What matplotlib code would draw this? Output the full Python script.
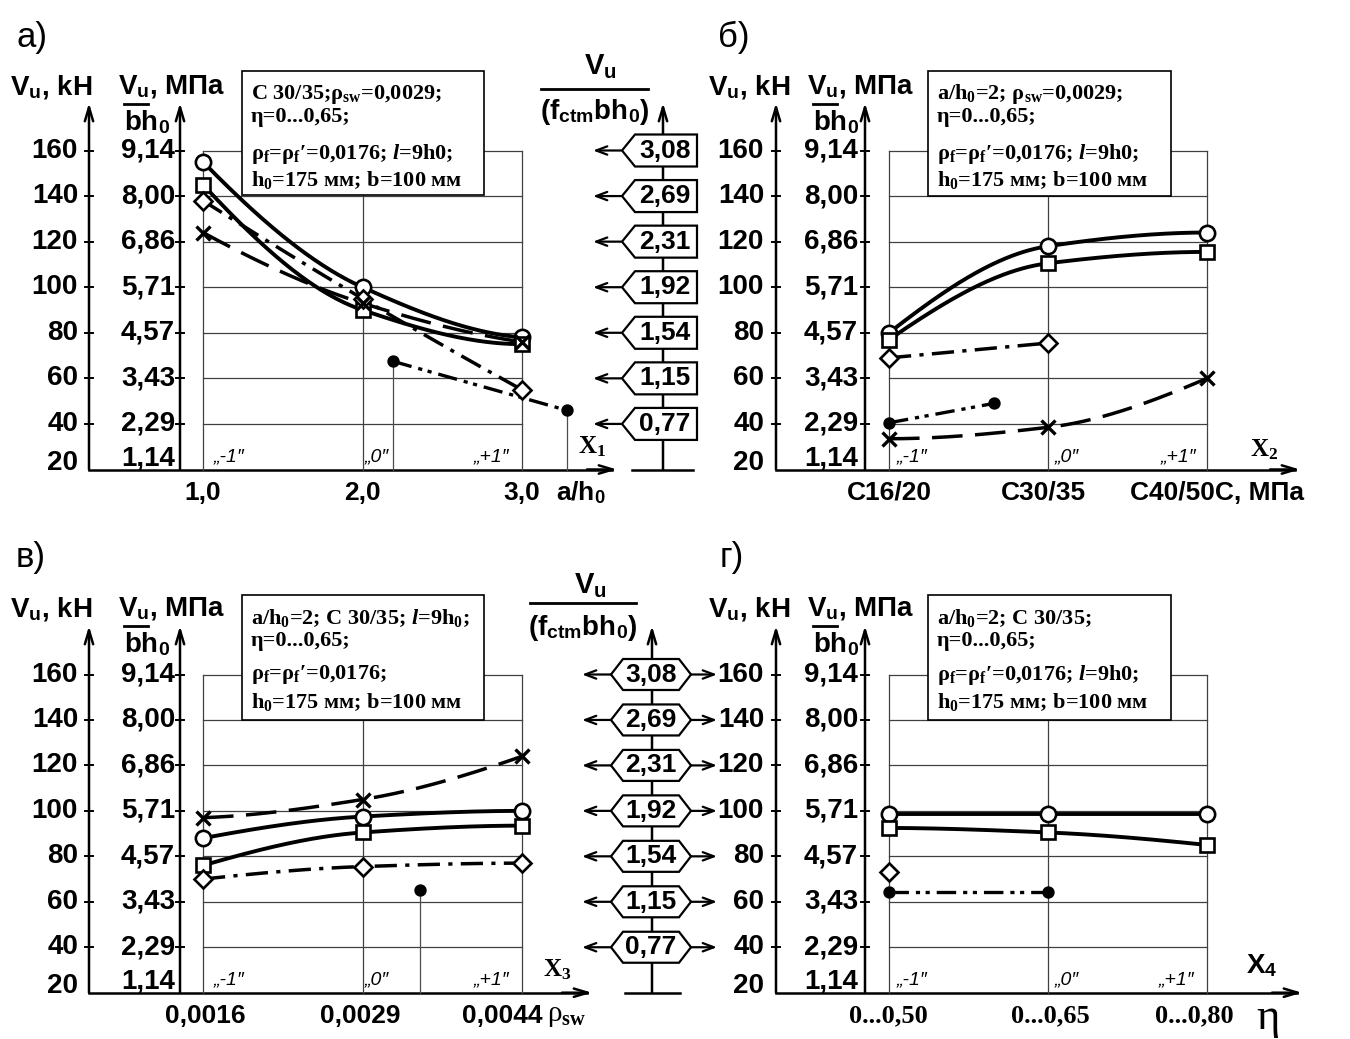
import matplotlib
matplotlib.use('Agg')
import matplotlib.pyplot as plt
from matplotlib import font_manager
from matplotlib.patches import Polygon, Rectangle
import numpy as np

# ---- данные: V_u, кН ----
kn_levels = ['20', '40', '60', '80', '100', '120', '140', '160']
mpa_levels = ['1,14', '2,29', '3,43', '4,57', '5,71', '6,86', '8,00', '9,14']
rel_levels = ['0,77', '1,15', '1,54', '1,92', '2,31', '2,69', '3,08']
code_levels = ['\u201e-1\u2033', '\u201e0\u2033', '\u201e+1\u2033']
x_pos = [1, 2, 3]

a_ticks = ['1,0', '2,0', '3,0']
a_circle = [155, 100, 78]
a_square = [145, 90, 75]
a_diamond = [138, 95, 55]
a_cross = [124, 93, 76]
a_dot_x = [2.19, 3.28]
a_dot = [67.5, 46]

b_ticks = ['С16/20', 'С30/35', 'С40/50']
b_circle = [80, 118, 124]
b_square = [77, 110.5, 115.5]
b_diamond_x = [1, 2]
b_diamond = [69, 75.5]
b_cross = [33.5, 38.5, 60]
b_dot_x = [1, 1.66]
b_dot = [40.5, 49]

c_ticks = ['0,0016', '0,0029', '0,0044']
c_circle = [88, 97.5, 100]
c_square = [76, 90.5, 93.5]
c_diamond = [70, 75.5, 77]
c_cross = [97, 105, 124]
c_dot_x = [2.36]
c_dot = [65]

d_ticks = ['0...0,50', '0...0,65', '0...0,80']
d_circle = [98.5, 98.5, 98.5]
d_square = [92.5, 90.5, 85]
d_diamond_x = [1]
d_diamond = [73]
d_dot_x = [1, 2]
d_dot = [64.5, 64.5]

# ---- шрифты ----
names = {f.name for f in font_manager.fontManager.ttflist}
if 'Liberation Sans Narrow' in names:
    SANS, K = 'Liberation Sans Narrow', 1.0
else:
    SANS, K = 'Liberation Sans', 0.95
SERIF = 'Liberation Serif'
plt.rcParams['mathtext.fontset'] = 'custom'
plt.rcParams['mathtext.rm'] = SANS + ':bold'
plt.rcParams['mathtext.bf'] = SERIF + ':bold'
plt.rcParams['mathtext.it'] = SERIF + ':italic:bold'
plt.rcParams['lines.scale_dashes'] = False

W, H = 1350, 1039
fig = plt.figure(figsize=(W / 100, H / 100), dpi=100)
ov = fig.add_axes([0, 0, 1, 1])
ov.set_xlim(0, W)
ov.set_ylim(H, 0)
ov.axis('off')

FS = 21 * K


def txt(x, y, s, fs, ha='left', va='center', fam=None, weight='bold',
        style='normal', ax=None, z=5):
    fam = fam or [SANS, 'DejaVu Sans']
    (ax or ov).text(x, y, s, fontsize=fs, ha=ha, va=va, family=fam,
                    weight=weight, style=style, transform=ov.transData, zorder=z)


def arr(x0, y0, x1, y1, lw=1.6, hl=1.0, hw=0.3):
    ov.annotate('', xy=(x1, y1), xytext=(x0, y0),
                arrowprops=dict(arrowstyle=f'->,head_length={hl},head_width={hw}',
                                lw=lw, color='k', shrinkA=0, shrinkB=0))


def smooth(xs, ys, n=80):
    # монотонная кубическая кривая через точки (Fritsch-Carlson)
    h = np.diff(xs)
    dl = np.diff(ys) / h
    d = np.zeros_like(ys)
    for i in range(1, len(xs) - 1):
        if dl[i - 1] * dl[i] > 0:
            w1 = 2 * h[i] + h[i - 1]
            w2 = h[i] + 2 * h[i - 1]
            d[i] = (w1 + w2) / (w1 / dl[i - 1] + w2 / dl[i])
    for i0, i1, j in ((0, 1, 0), (-1, -2, -1)):
        hh0, hh1 = h[j], h[j + (1 if j == 0 else -1)]
        e = ((2 * hh0 + hh1) * dl[j] - hh0 * dl[j + (1 if j == 0 else -1)]) / (hh0 + hh1)
        if np.sign(e) != np.sign(dl[j]):
            e = 0.0
        d[i0] = e
    xx, yy = [], []
    for i in range(len(xs) - 1):
        t = np.linspace(0, 1, n)
        h00 = 2 * t ** 3 - 3 * t ** 2 + 1
        h10 = t ** 3 - 2 * t ** 2 + t
        h01 = -2 * t ** 3 + 3 * t ** 2
        h11 = t ** 3 - t ** 2
        xx.append(xs[i] + t * h[i])
        yy.append(h00 * ys[i] + h10 * h[i] * d[i] + h01 * ys[i + 1] + h11 * h[i] * d[i + 1])
    return np.concatenate(xx), np.concatenate(yy)


def line(ax, xs, ys, style, marker, ms, filled=False, lw=2.8):
    xs = np.asarray(xs, float)
    ys = np.asarray(ys, float)
    if len(xs) >= 3:
        xx, yy = smooth(xs, ys)
    else:
        xx, yy = xs, ys
    if len(xs) > 1:
        ax.plot(xx, yy, color='k', lw=lw, clip_on=False, zorder=4, **style)
    ax.plot(xs, ys, ls='none', marker=marker, ms=ms,
            mfc='k' if filled else 'white', mec='k',
            mew=2.4 if marker == 'x' else 1.9, clip_on=False, zorder=5)


SOLID = dict(ls='-')
DASHDOT = dict(dashes=(16, 6, 3, 6))
LONGDASH = dict(dashes=(22, 9))
DASHDOTDOT = dict(dashes=(14, 5, 3, 4, 3, 5))

A = dict(gx=(203, 362, 522), y160=150.5, y20=469.5, kn=89, mpa=180, xend=617,
         hdr=87, top=103, title=('а)', 16, 37), box=(242, 71, 484, 195),
         ly=(94, 117, 154, 180), cx=(229, 377, 491), cy=457, kn_r=78, mpa_r=175,
         vk=10, vm=118, xlab_y=493)
B = dict(gx=(889, 1048, 1207), y160=150.5, y20=469.5, kn=776, mpa=865, xend=1300,
         hdr=87, top=103, title=('б)', 718, 37), box=(928, 71, 1171, 196),
         ly=(94, 117, 154, 180), cx=(912, 1067, 1178), cy=457, kn_r=764, mpa_r=858,
         vk=708, vm=807, xlab_y=493)
C = dict(gx=(203, 362, 522), y160=674.5, y20=992.7, kn=89, mpa=180, xend=592,
         hdr=609, top=626, title=('в)', 16, 557), box=(242, 595, 484, 720),
         ly=(618, 641, 675, 702), cx=(229, 377, 491), cy=980, kn_r=78, mpa_r=175,
         vk=10, vm=118, xlab_y=1016)
D = dict(gx=(889, 1048, 1207), y160=674.5, y20=992.7, kn=776, mpa=865, xend=1302,
         hdr=609, top=626, title=('г)', 720, 557), box=(928, 595, 1171, 720),
         ly=(618, 641, 675, 702), cx=(912, 1067, 1176), cy=980, kn_r=764, mpa_r=858,
         vk=708, vm=807, xlab_y=1016)


def frame(g, box_lines):
    gx, y160, y20 = g['gx'], g['y160'], g['y20']
    step = (y20 - y160) / 7
    lev = [y20 - i * step for i in range(8)]
    t, tx, ty = g['title']
    txt(tx, ty, t, 25, fam=['Liberation Sans', 'DejaVu Sans'], weight='normal')
    # оси
    ov.plot([g['kn'], g['xend'] - 5], [y20, y20], color='k', lw=1.8, zorder=3)
    arr(g['xend'] - 30, y20, g['xend'], y20, lw=1.8)
    for x in (g['kn'], g['mpa']):
        arr(x, y20, x, g['top'], lw=1.8)
        for yy in lev[1:]:
            ov.plot([x - 4, x + 4], [yy, yy], color='k', lw=1.4)
    for i, yy in enumerate(lev):
        dy = -7 if i == 0 else 0
        txt(g['kn_r'], yy + dy, kn_levels[i], FS, ha='right')
        txt(g['mpa_r'], yy + (-11 if i == 0 else 0), mpa_levels[i], FS, ha='right')
    txt(g['vk'], g['hdr'], 'V$_{\\rm u}$, kH', FS)
    txt(g['vm'], g['hdr'], 'V$_{\\rm u}$, МПа', FS)
    ov.plot([g['vm'] + 6, g['vm'] + 30], [g['hdr'] + 17, g['hdr'] + 17], color='k', lw=2)
    txt(g['vm'] + 6, g['hdr'] + 35, 'bh$_{\\rm 0}$', FS)
    for x, s in zip(g['cx'], code_levels):
        txt(x, g['cy'], s, 14, ha='center', weight='normal', style='italic')

    ax = fig.add_axes([gx[0] / W, 1 - y20 / H, (gx[2] - gx[0]) / W, (y20 - y160) / H])
    ax.set_xlim(1, 3)
    ax.set_ylim(20, 160)
    ax.axis('off')
    for v in range(40, 161, 20):
        ax.plot([1, 3], [v, v], color='0.25', lw=0.9, zorder=1, clip_on=False)
    for x in x_pos:
        ax.plot([x, x], [20, 160], color='0.25', lw=0.9, zorder=1, clip_on=False)
    x0, y0, x1, y1 = g['box']
    ax.add_patch(Rectangle((x0, y0), x1 - x0, y1 - y0, transform=ov.transData,
                           facecolor='white', edgecolor='k', lw=1.2, zorder=2,
                           clip_on=False))
    for yy, s in zip(g['ly'], box_lines):
        txt(x0 + 9, yy, s, 16, fam=[SERIF, 'DejaVu Serif'], ax=ax, z=3)
    return ax


def rel_scale(x_ax, y20, lev, top, hexagon, base):
    arr(x_ax, y20, x_ax, top, lw=1.8)
    ov.plot(base, [y20, y20], color='k', lw=1.8)
    for i, s in enumerate(rel_levels):
        yc = lev[i + 1]
        if hexagon:
            pts = [(611, yc), (623, yc - 15.5), (679, yc - 15.5), (691, yc),
                   (679, yc + 15.5), (623, yc + 15.5)]
            arr(611, yc, 582, yc, lw=1.6, hl=0.8)
            arr(691, yc, 717, yc, lw=1.6, hl=0.8)
            txt(651, yc, s, 20 * K, ha='center')
        else:
            pts = [(622, yc), (635, yc - 16), (697, yc - 16), (697, yc + 16),
                   (635, yc + 16)]
            arr(621, yc, 593, yc, lw=1.6, hl=0.8)
            txt(665, yc, s, 20 * K, ha='center')
        ov.add_patch(Polygon(pts, closed=True, facecolor='white', edgecolor='k',
                             lw=1.6, zorder=4))


def levels(g):
    step = (g['y20'] - g['y160']) / 7
    return [g['y20'] - i * step for i in range(8)]


SUB0 = '$_{\\mathbf{0}}$'
SW = '$_{\\mathbf{sw}}$'
FF = '$_{\\mathbf{f}}$'
L = '$\\mathit{l}$'

# ---- а) ----
ax = frame(A, ['C 30/35;ρ' + SW + '=0,0029;', 'η=0...0,65;',
               'ρ' + FF + '=ρ' + FF + '′=0,0176; ' + L + '=9h0;',
               'h' + SUB0 + '=175 мм; b=100 мм'])
line(ax, x_pos, a_circle, SOLID, 'o', 11)
line(ax, x_pos, a_square, SOLID, 's', 10)
line(ax, x_pos, a_diamond, DASHDOT, 'D', 9, lw=2.5)
line(ax, x_pos, a_cross, LONGDASH, 'x', 10, lw=2.5)
line(ax, a_dot_x, a_dot, DASHDOTDOT, 'o', 7, filled=True, lw=2.4)
for x, v in zip(a_dot_x, a_dot):
    ax.plot([x, x], [v, 20], color='0.3', lw=0.9, clip_on=False, zorder=1)
for x, s in zip(A['gx'], a_ticks):
    txt(x, A['xlab_y'], s, 20 * K, ha='center')
txt(556, A['xlab_y'], 'a/h$_{\\rm 0}$', 20 * K)
txt(578, 447, 'X' + '$_{\\mathbf{1}}$', 18, fam=[SERIF, 'DejaVu Serif'])
rel_scale(663, A['y20'], levels(A), 103, False, [632, 693])
txt(600, 67, 'V$_{\\rm u}$', FS + 1, ha='center')
ov.plot([541, 648], [89, 89], color='k', lw=2)
txt(595, 112, '(f$_{\\rm ctm}$bh$_{\\rm 0}$)', FS, ha='center')

# ---- б) ----
ax = frame(B, ['a/h' + SUB0 + '=2; ρ' + SW + '=0,0029;', 'η=0...0,65;',
               'ρ' + FF + '=ρ' + FF + '′=0,0176; ' + L + '=9h0;',
               'h' + SUB0 + '=175 мм; b=100 мм'])
line(ax, x_pos, b_circle, SOLID, 'o', 11)
line(ax, x_pos, b_square, SOLID, 's', 10)
line(ax, b_diamond_x, b_diamond, DASHDOT, 'D', 9, lw=2.5)
line(ax, x_pos, b_cross, LONGDASH, 'x', 10, lw=2.5)
line(ax, b_dot_x, b_dot, DASHDOTDOT, 'o', 7, filled=True, lw=2.4)
txt(B['gx'][0], B['xlab_y'], b_ticks[0], 20 * K, ha='center')
txt(1043, B['xlab_y'], b_ticks[1], 20 * K, ha='center')
txt(1130, B['xlab_y'], b_ticks[2] + 'С, МПа', 20 * K)
txt(1250, 450, 'X' + '$_{\\mathbf{2}}$', 18, fam=[SERIF, 'DejaVu Serif'])

# ---- в) ----
ax = frame(C, ['a/h' + SUB0 + '=2; C 30/35; ' + L + '=9h' + SUB0 + ';', 'η=0...0,65;',
               'ρ' + FF + '=ρ' + FF + '′=0,0176;',
               'h' + SUB0 + '=175 мм; b=100 мм'])
line(ax, x_pos, c_circle, SOLID, 'o', 11)
line(ax, x_pos, c_square, SOLID, 's', 10)
line(ax, x_pos, c_diamond, DASHDOT, 'D', 9, lw=2.5)
line(ax, x_pos, c_cross, LONGDASH, 'x', 10, lw=2.5)
line(ax, c_dot_x, c_dot, DASHDOTDOT, 'o', 7, filled=True, lw=2.4)
for x, v in zip(c_dot_x, c_dot):
    ax.plot([x, x], [v, 20], color='0.3', lw=0.9, clip_on=False, zorder=1)
txt(205, C['xlab_y'], c_ticks[0], 20 * K, ha='center')
txt(360, C['xlab_y'], c_ticks[1], 20 * K, ha='center')
txt(502, C['xlab_y'], c_ticks[2], 20 * K, ha='center')
txt(547, C['xlab_y'], 'ρ$_{\\mathbf{sw}}$', 21, fam=[SERIF, 'DejaVu Serif'], weight='normal')
txt(543, 970, 'X' + '$_{\\mathbf{3}}$', 18, fam=[SERIF, 'DejaVu Serif'])
rel_scale(652, C['y20'], levels(C), 626, True, [625, 680])
txt(590, 586, 'V$_{\\rm u}$', FS + 1, ha='center')
ov.plot([530, 636], [603, 603], color='k', lw=2)
txt(583, 628, '(f$_{\\rm ctm}$bh$_{\\rm 0}$)', FS, ha='center')

# ---- г) ----
ax = frame(D, ['a/h' + SUB0 + '=2; C 30/35;', 'η=0...0,65;',
               'ρ' + FF + '=ρ' + FF + '′=0,0176; ' + L + '=9h0;',
               'h' + SUB0 + '=175 мм; b=100 мм'])
line(ax, x_pos, d_circle, SOLID, 'o', 11)
line(ax, x_pos, d_square, SOLID, 's', 10)
line(ax, d_diamond_x, d_diamond, DASHDOT, 'D', 9, lw=2.5)
line(ax, d_dot_x, d_dot, DASHDOTDOT, 'o', 7, filled=True, lw=2.4)
for x, s in zip((888, 1050, 1194), d_ticks):
    txt(x, D['xlab_y'], s, 19, ha='center', fam=[SERIF, 'DejaVu Serif'])
txt(1256, 1018, 'η', 32, fam=[SERIF, 'DejaVu Serif'], weight='normal')
txt(1246, 966, 'X$_{\\rm 4}$', FS)

fig.savefig('out.png', dpi=100)
